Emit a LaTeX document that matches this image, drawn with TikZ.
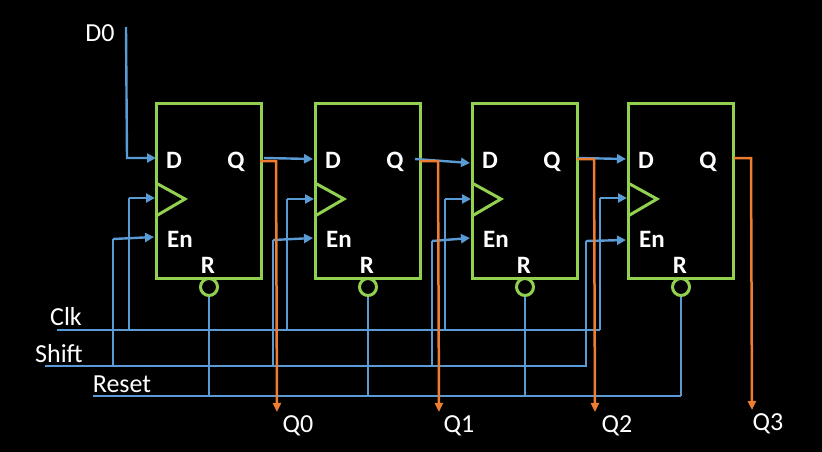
\documentclass[tikz,border=0pt]{standalone}
\usepackage{fontspec}
\setmainfont{Carlito}
\usetikzlibrary{arrows.meta}
\definecolor{sigblue}{HTML}{5B9BD5}
\definecolor{ffgreen}{HTML}{92D050}
\definecolor{outorange}{HTML}{ED7D31}
\tikzset{
  ffbox/.style={draw=ffgreen, line width=3, minimum width=105, minimum height=175, inner sep=0},
  rbubble/.style={draw=ffgreen, line width=3, circle, minimum size=17, inner sep=0},
  pin/.style={text=white, font=\fontsize{25}{25}\selectfont\bfseries, inner sep=0, anchor=base},
  lbl/.style={text=white, font=\fontsize{26}{26}\selectfont, inner sep=0},
  wire/.style={draw=sigblue, line width=2.4},
  sig/.style={wire, -{Triangle[length=9, width=9]}},
  outsig/.style={draw=outorange, line width=2.5, -{Triangle[length=9, width=8]}},
  clktri/.style={draw=ffgreen, line width=3}
}
\begin{document}
\begin{tikzpicture}[x=1pt, y=-1pt]
\fill[black] (0, 0) rectangle (822, 452);
\useasboundingbox (0, 0) rectangle (822, 452);

% flip-flops
\foreach \i/\x in {0/156, 1/315, 2/472, 3/628} {
  \node[ffbox] (ff\i) at (\x+53, 191) {};
  \draw[clktri] (\x, 183) -- (\x+29, 199) -- (\x, 216);
  \node[pin] (d\i) at (\x+18, 168) {D};
  \node[pin] (q\i) at (\x+80, 168) {Q};
  \node[pin] (en\i) at (\x+24, 247) {En};
  \node[pin] (r\i) at (\x+52, 273) {R};
  \node[rbubble] (rst\i) at (\x+53, 287) {};
}

% bus ends
\coordinate (clkstart) at (57, 330);
\coordinate (clkend) at (600, 330);
\coordinate (shiftstart) at (45, 366);
\coordinate (shiftend) at (587, 366);
\coordinate (resetstart) at (93, 396);
\coordinate (resetend) at (681, 396);
\draw[wire] (clkstart) -- (clkend);
\draw[wire] (shiftstart) -- (shiftend);
\draw[wire] (resetstart) -- (resetend);

% data in
\coordinate (din) at (126, 27);
\coordinate (dcorner) at (127, 158);
\coordinate (dpin0) at (156, 158);
\draw[sig] (din) -- (dcorner) -- (dpin0);

% clock and enable taps
\foreach \i/\cx/\cy/\ex/\ey/\et in {0/129/198/113/237/239, 1/287/199/273/238/240, 2/445/199/432/238/241, 3/600/198/586/240/241} {
  \coordinate (clktap\i) at (\cx, \cy);
  \coordinate (clkpin\i) at (ff\i.west |- clktap\i);
  \draw[wire] (clktap\i) -- (clktap\i |- clkstart);
  \draw[sig] (clktap\i) -- (clkpin\i);
  \coordinate (entap\i) at (\ex, \et);
  \coordinate (enpin\i) at ([xshift=-1]ff\i.west |- 0, \ey);
  \draw[wire] (entap\i) -- (entap\i |- shiftstart);
  \draw[sig] (entap\i) -- (enpin\i);
  \draw[wire] (rst\i.south) -- (rst\i.south |- resetstart);
}

% Q to next D
\foreach \i/\j/\sx/\sy/\ey in {0/1/264/158/159, 1/2/415/159/163, 2/3/577/158/159} {
  \coordinate (qout\i) at (\sx, \sy);
  \coordinate (dpin\j) at ([xshift=-1]ff\j.west |- 0, \ey);
  \draw[sig] (qout\i) -- (dpin\j);
}

% outputs
\foreach \i/\sx/\vx/\vy/\ex/\ey/\tx/\ty in {0/260/276/161/277/412/298/426, 1/420/438/161/439/412/459/426, 2/577/594/159/595/412/617/426, 3/734/751/158/752/410/768/424} {
  \coordinate (qtap\i) at (\sx, \vy);
  \coordinate (qbend\i) at (\vx, \vy);
  \coordinate (qend\i) at (\ex, \ey);
  \draw[outsig] (qtap\i) -- (qbend\i) -- (qend\i);
  \node[lbl] (qlabel\i) at (\tx, \ty) {Q\i};
}

\node[lbl] (dzero) at (100, 33) {D0};
\node[lbl] (clk) at (66, 317) {Clk};
\node[lbl] (shift) at (59, 354) {Shift};
\node[lbl] (reset) at (122, 384) {Reset};
\end{tikzpicture}
\end{document}
